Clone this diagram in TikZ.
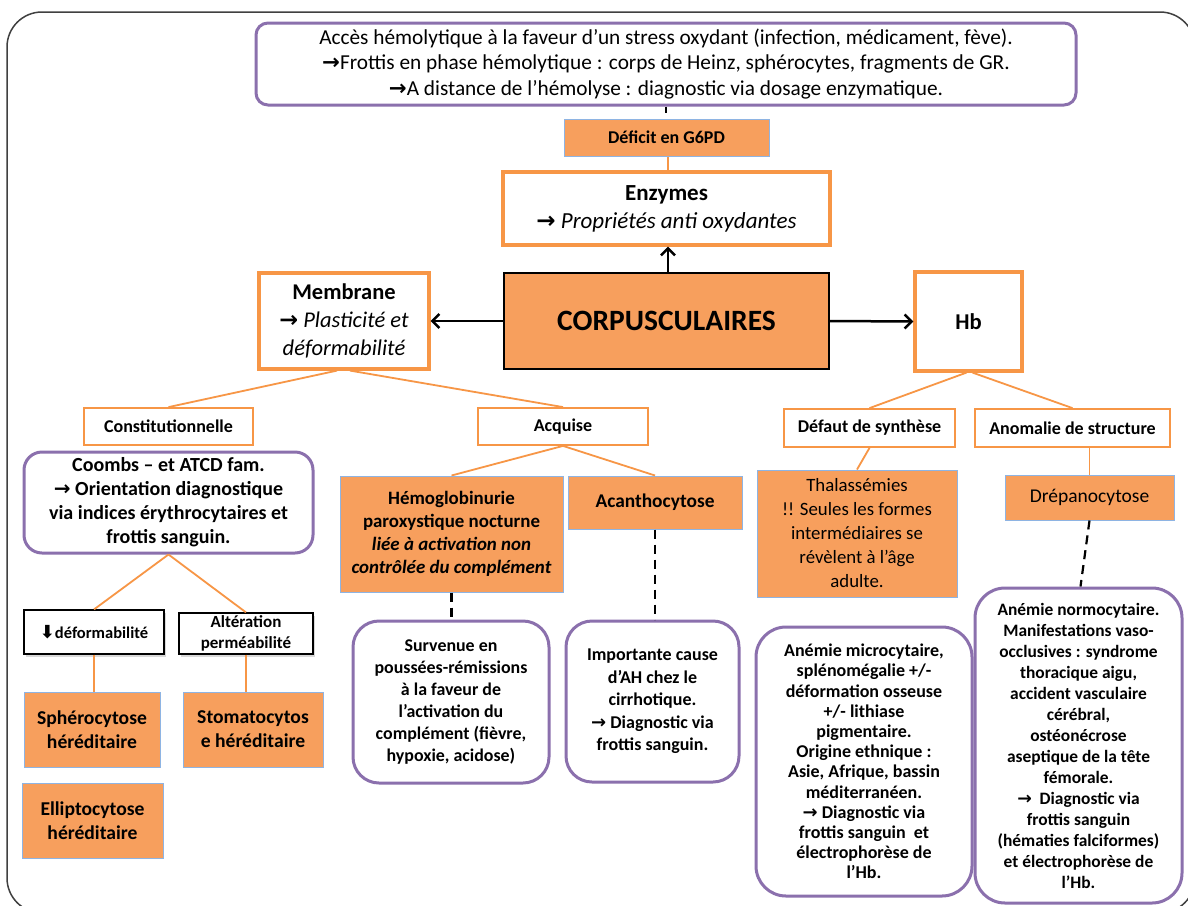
\documentclass[tikz,border=0pt]{standalone}
\usepackage{fontspec}
\setmainfont{Carlito}
\newfontfamily\symf{DejaVu Sans}
\usetikzlibrary{arrows.meta,shadows}
\definecolor{orangefill}{HTML}{F79F5D}
\definecolor{orangeline}{HTML}{F79646}
\definecolor{purp}{HTML}{8B70AD}
\definecolor{bluegray}{HTML}{8EB4E3}
\newcommand\ar{{\symf\bfseries →}}
\newcommand\fs[2]{\fontsize{#1}{#2}\selectfont}
\tikzset{
  base/.style={draw, inner sep=0pt, align=center, text=black, anchor=center},
  purplebox/.style={base, draw=purp, line width=3pt, fill=white},
  obox/.style={base, draw=orangeline, line width=3.2pt, fill=white},
  othin/.style={base, draw=orangeline, line width=1.8pt, fill=white},
  ofill/.style={base, draw=bluegray, line width=1pt, fill=orangefill},
  blackbox/.style={base, draw=black, line width=1.2pt, fill=white,
    drop shadow={shadow xshift=2pt, shadow yshift=-3pt, opacity=.3, fill=gray}},
  link/.style={draw=orangeline, line width=1.8pt},
  dashlink/.style={draw=black, line width=2.2pt, dash pattern=on 9pt off 6pt},
  arr/.style={draw=black, line width=2.5pt, -{Straight Barb[length=7pt,width=14pt,line width=2.5pt]}},
  sz/.style 2 args={minimum width=#1pt, minimum height=#2pt},
}
\begin{document}
\begin{tikzpicture}[x=1pt, y=-1pt]
\useasboundingbox (0,0) rectangle (1188,905);
\clip (0,0) rectangle (1188,905);
\fill[white] (0,0) rectangle (1188,905);
% outer frame
\draw[black!75, line width=1.5pt, rounded corners=35pt] (7,12) rectangle (1195,913);

% top row
\node[purplebox, rounded corners=12pt, sz={820}{82}, font=\fs{21.3}{25.5}] (top) at (666,64) {%
  Accès hémolytique à la faveur d’un stress oxydant (infection, médicament, fève).\\
  \ar Frottis en phase hémolytique : corps de Heinz, sphérocytes, fragments de GR.\\
  \ar A distance de l’hémolyse : diagnostic via dosage enzymatique.};
\node[ofill, sz={205}{37}, font=\fs{18}{20}\bfseries] (deficit) at (666.5,137.5) {Déficit en G6PD};
\node[obox, sz={327}{73}, font=\fs{23}{28}] (enz) at (666.5,208.5) {\textbf{Enzymes}\\ \ar\ \textit{Propriétés anti oxydantes}};

% central row
\node[base, draw=black, line width=2pt, fill=orangefill, sz={325}{96}, font=\fs{29.5}{32}\bfseries] (corp) at (666.5,321) {CORPUSCULAIRES};
\node[obox, sz={170}{96}, font=\fs{22.5}{28}] (memb) at (344,321) {\textbf{Membrane}\\ \ar\ \textit{Plasticité et}\\ \textit{déformabilité}};
\node[obox, sz={107}{99}, font=\fs{22.6}{24}\bfseries] (hb) at (968.5,321.5) {Hb};

% second level
\node[othin, sz={169}{37}, font=\fs{18}{20}\bfseries] (const) at (168.5,426.5) {Constitutionnelle};
\node[othin, sz={170}{37}, font=\fs{18}{20}\bfseries] (acq) at (563,426.5) {Acquise};
\node[othin, sz={171}{38}, font=\fs{18}{20}\bfseries] (defaut) at (869.5,428) {Défaut de synthèse};
\node[othin, sz={195}{38}, font=\fs{18}{20}\bfseries] (anom) at (1072.5,428) {Anomalie de structure};

% third level
\node[purplebox, rounded corners=18pt, sz={289}{101}, font=\fs{20}{24}\bfseries] (coombs) at (168.5,502.5) {%
  Coombs – et ATCD fam.\\ \ar\ Orientation diagnostique\\ via indices érythrocytaires et\\ frottis sanguin.};
\node[ofill, sz={223}{116}, font=\fs{18.9}{23}\bfseries] (hemo) at (451.5,534) {%
  Hémoglobinurie\\ paroxystique nocturne\\ \textit{liée à activation non}\\ \textit{contrôlée du complément}};
\node[ofill, sz={174}{53}, font=\fs{19.4}{22}\bfseries] (acan) at (655,502.5) {Acanthocytose};
\node[ofill, sz={200}{127}, font=\fs{18.8}{24}] (thal) at (857,533.5) {%
  Thalassémies\\ !! Seules les formes\\ intermédiaires se\\ révèlent à l’âge\\ adulte.};
\node[ofill, sz={169}{45}, font=\fs{19.5}{22}] (drep) at (1089.5,497.5) {Drépanocytose};

% constitutional branch
\node[blackbox, sz={140}{44}, font=\fs{16.5}{19}\bfseries] (defo) at (94,632) {{\symf\bfseries\fontsize{18}{19}\selectfont ⬇}déformabilité};
\node[blackbox, sz={134}{41}, font=\fs{17}{20.5}\bfseries] (alt) at (246,633.5) {Altération\\ perméabilité};
\node[ofill, sz={136}{75}, font=\fs{19.6}{24}\bfseries] (sphe) at (92,729.5) {Sphérocytose\\ héréditaire};
\node[ofill, sz={140}{75}, font=\fs{19.6}{24}\bfseries] (stom) at (253,729.5) {Stomatocytos\\ e héréditaire};
\node[ofill, sz={141}{75}, font=\fs{19.6}{24}\bfseries] (elli) at (92.5,820.5) {Elliptocytose\\ héréditaire};

% detail boxes
\node[purplebox, rounded corners=26pt, sz={196}{162}, font=\fs{17.9}{22}\bfseries] (surv) at (451,702) {%
  Survenue en\\ poussées-rémissions\\ à la faveur de\\ l’activation du\\ complément (fièvre,\\ hypoxie, acidose)};
\node[purplebox, rounded corners=26pt, sz={173}{161}, font=\fs{18}{22.5}\bfseries] (impo) at (652.5,701.5) {%
  Importante cause\\ d’AH chez le\\ cirrhotique.\\ \ar\ Diagnostic via\\ frottis sanguin.};
\node[purplebox, rounded corners=30pt, sz={216}{269}, font=\fs{18}{20.2}\bfseries] (micro) at (864,761.5) {%
  Anémie microcytaire,\\ splénomégalie +/-\\ déformation osseuse\\ +/- lithiase\\ pigmentaire.\\
  Origine ethnique :\\ Asie, Afrique, bassin\\ méditerranéen.\\ \ar\ Diagnostic via\\
  frottis sanguin\ \ et\\ électrophorèse de\\ l’Hb.};
\node[purplebox, rounded corners=30pt, sz={207}{315}, font=\fs{17.4}{21}\bfseries] (normo) at (1078.5,745.5) {%
  Anémie normocytaire.\\ Manifestations vaso-\\ occlusives : syndrome\\ thoracique aigu,\\
  accident vasculaire\\ cérébral,\\ ostéonécrose\\ aseptique de la tête\\ fémorale.\\
  \ar\ \ Diagnostic via\\ frottis sanguin\\ (hématies falciformes)\\ et électrophorèse de\\ l’Hb.};

% connectors
\coordinate (tick) at (666,113);
\draw[black, line width=1.5pt] (top.south) -- (tick);
\draw[link] ([xshift=1.5pt]deficit.south) -- ([xshift=1.5pt]deficit.south |- enz.north);
\draw[arr] ([xshift=1.5pt]corp.north) -- ([xshift=1.5pt]corp.north |- enz.south);
\draw[arr] (corp.west) -- (memb.east);
\draw[arr] (corp.east) -- (hb.west);

\draw[link] ([xshift=-7pt]memb.south) -- (const.north);
\draw[link] ([xshift=6pt]memb.south) -- (acq.north);
\draw[link] ([xshift=-2pt]hb.south) -- (defaut.north);
\draw[link] ([xshift=4pt]hb.south) -- (anom.north);

\draw[link] (acq.south) -- (hemo.north);
\draw[link] (acq.south) -- (acan.north);
\draw[link] (defaut.south) -- (thal.north);
\draw[link] (drep.north |- anom.south) -- (drep.north);

\draw[link] (coombs.south) -- (defo.north);
\draw[link] (coombs.south) -- (alt.north);
\draw[link] (defo.south) -- (defo.south |- sphe.north);
\draw[link] (alt.south) -- (alt.south |- stom.north);

\draw[dashlink] (hemo.south) -- (hemo.south |- surv.north);
\draw[dashlink] (acan.south) -- (acan.south |- impo.north);
\draw[dashlink] (drep.south) -- ([xshift=2pt]normo.north);
\end{tikzpicture}
\end{document}
